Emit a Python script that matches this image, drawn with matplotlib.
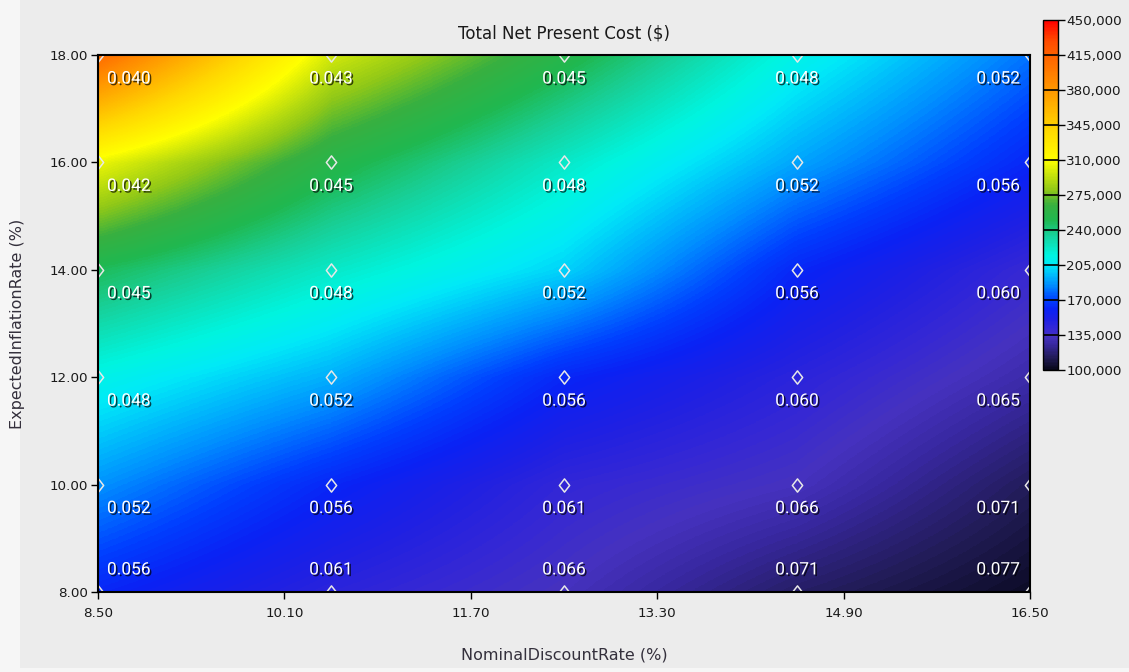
import numpy as np
import matplotlib
matplotlib.use("Agg")
import matplotlib.pyplot as plt
from matplotlib.colors import LinearSegmentedColormap
import matplotlib.patheffects as pe
from matplotlib.patches import Rectangle
from matplotlib.path import Path

# ---- data ----
nominal_discount = [8.5, 10.5, 12.5, 14.5, 16.5]          # x (%)
expected_inflation = [8.0, 10.0, 12.0, 14.0, 16.0, 18.0]   # y (%)
# Total NPC ($) at grid points, rows = inflation (8 -> 18), cols = discount
npc = [
    [162000, 145000, 133000, 115000, 103000],
    [186000, 162000, 142000, 133000, 113000],
    [212000, 192000, 162000, 145000, 128000],
    [248000, 222000, 200000, 162000, 140000],
    [305000, 255000, 222000, 190000, 162000],
    [410000, 298000, 255000, 212000, 180000],
]
# COE labels ($/kWh), same layout
coe = [
    ["0.056", "0.061", "0.066", "0.071", "0.077"],
    ["0.052", "0.056", "0.061", "0.066", "0.071"],
    ["0.048", "0.052", "0.056", "0.060", "0.065"],
    ["0.045", "0.048", "0.052", "0.056", "0.060"],
    ["0.042", "0.045", "0.048", "0.052", "0.056"],
    ["0.040", "0.043", "0.045", "0.048", "0.052"],
]
x_ticks = [8.50, 10.10, 11.70, 13.30, 14.90, 16.50]
y_ticks = [8.00, 10.00, 12.00, 14.00, 16.00, 18.00]
cbar_ticks = [100000, 135000, 170000, 205000, 240000, 275000, 310000,
              345000, 380000, 415000, 450000]
vmin, vmax = 100000, 450000

# ---- colormap ----
anchors = [
    (100000, '#08081a'), (112000, '#221c58'), (125000, '#3828a0'),
    (133000, '#4632c0'), (140000, '#3628d4'), (150000, '#1e20e4'),
    (160000, '#0a22f5'), (170000, '#0040ff'), (185000, '#0090ff'),
    (205000, '#00eaf8'), (215000, '#00f5e0'), (235000, '#18d098'),
    (250000, '#20b850'), (265000, '#38b040'), (280000, '#90c818'),
    (310000, '#ffff00'), (340000, '#ffd800'), (360000, '#ffb800'),
    (380000, '#ff9800'), (410000, '#ff6a00'), (430000, '#ff4a00'),
    (450000, '#ff0000'),
]
cmap = LinearSegmentedColormap.from_list(
    'homer', [((v - vmin) / (vmax - vmin), c) for v, c in anchors])

W, H = 1129, 672
fig = plt.figure(figsize=(W / 100, H / 100), dpi=100, facecolor='#f6f6f6')
fig.patches.append(Rectangle((20 / W, 4 / H), 1 - 20 / W, 1 - 4 / H,
                             transform=fig.transFigure, facecolor='#ececec',
                             edgecolor='none', zorder=-10))

ax = fig.add_axes([98 / W, (H - 592) / H, 932 / W, 537 / H])
Z = np.array(npc, dtype=float)
xs = np.array(nominal_discount)
ys = np.array(expected_inflation)
dx = xs[1] - xs[0]
dy = ys[1] - ys[0]
im = ax.imshow(Z, origin='lower', cmap=cmap, vmin=vmin, vmax=vmax,
               extent=[xs[0] - dx / 2, xs[-1] + dx / 2, ys[0] - dy / 2, ys[-1] + dy / 2],
               interpolation='bilinear', interpolation_stage='data', aspect='auto')
ax.set_xlim(8.5, 16.5)
ax.set_ylim(8.0, 18.0)

# diamonds
diamond = Path([(0, 1), (0.78, 0), (0, -1), (-0.78, 0), (0, 1)],
               [Path.MOVETO, Path.LINETO, Path.LINETO, Path.LINETO, Path.CLOSEPOLY])
XX, YY = np.meshgrid(xs, ys)
ax.plot(XX.ravel(), YY.ravel(), linestyle='none', marker=diamond, markersize=9.5,
        markerfacecolor='none', markeredgecolor='#e8e8e8', markeredgewidth=1.1)

# labels
shadow = [pe.withSimplePatchShadow(offset=(1.2, -1.2), shadow_rgbFace='black', alpha=0.7)]
for i, yv in enumerate(ys):
    for j, xv in enumerate(xs):
        if j == 0:
            xoff, ha = 9, 'left'
        elif j == len(xs) - 1:
            xoff, ha = -10, 'right'
        else:
            xoff, ha = 0, 'center'
        yoff = 22 if i == 0 else -24
        ax.annotate(coe[i][j], (xv, yv), xytext=(xoff * 0.72, yoff * 0.72),
                    textcoords='offset points', ha=ha, va='center',
                    color='white', fontsize=12.5, family=['Roboto', 'DejaVu Sans'],
                    path_effects=shadow, annotation_clip=False)

tick_color = '#1a1a1a'
ax.set_xticks(x_ticks)
ax.set_xticklabels([f"{v:.2f}" for v in x_ticks])
ax.set_yticks(y_ticks)
ax.set_yticklabels([f"{v:.2f}" for v in y_ticks])
ax.tick_params(axis='x', direction='out', length=5, width=1, colors='black',
               labelcolor=tick_color, labelsize=9.7, pad=5.5)
ax.tick_params(axis='y', direction='out', length=5, width=1, colors='black',
               labelcolor=tick_color, labelsize=9.7, pad=2)
for s in ax.spines.values():
    s.set_linewidth(1.5)
    s.set_color('black')

label_color = '#34303c'
ax.set_title('Total Net Present Cost ($)', fontsize=12, color='#1a1a1a', pad=12)
ax.set_xlabel('NominalDiscountRate (%)', fontsize=11.5, color=label_color, labelpad=20)
ax.set_ylabel('ExpectedInflationRate (%)', fontsize=11.5, color=label_color, labelpad=18)

# colorbar
cax = fig.add_axes([1043 / W, (H - 370) / H, 15 / W, 350 / H])
cb = fig.colorbar(im, cax=cax, ticks=cbar_ticks)
cb.outline.set_linewidth(1)
cb.outline.set_edgecolor('black')
cb.ax.set_yticklabels([f"{v:,}" for v in cbar_ticks])
cb.ax.tick_params(direction='out', length=5, width=1, colors='black',
                  labelcolor=tick_color, labelsize=9.7, pad=1)
for v in cbar_ticks[1:-1]:
    cb.ax.axhline(v, color='black', linewidth=1.2)

fig.savefig('out.png', dpi=100, facecolor=fig.get_facecolor())
